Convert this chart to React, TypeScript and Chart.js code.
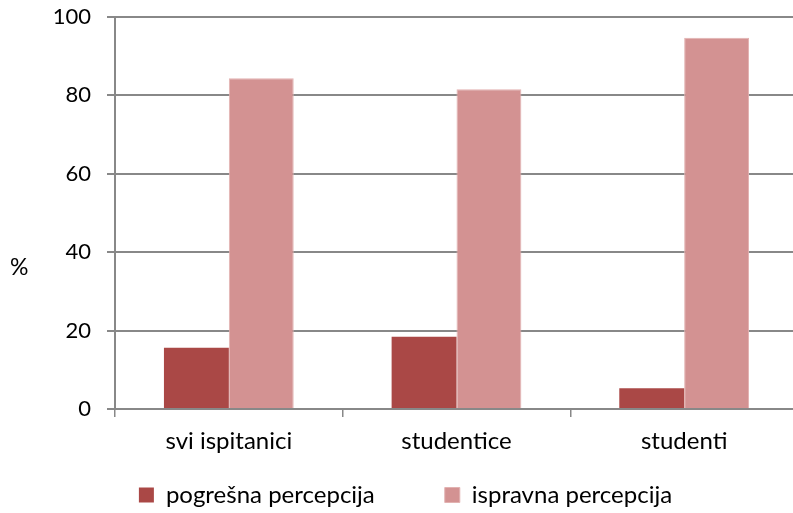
import React, { useEffect, useRef } from "react";
import { Chart, registerables } from "chart.js";

Chart.register(...registerables);

const categories = ["svi ispitanici", "studentice", "studenti"];
const seriesNames = ["pogrešna percepcija", "ispravna percepcija"];
const wrongValues = [15.6, 18.4, 5.3];
const correctValues = [84.4, 81.6, 94.7];
const yTicks = [0, 20, 40, 60, 80, 100];
const yAxisLabel = "%";

const FONT = "Lato, 'Noto Sans', sans-serif";

const percentLabel = {
  id: "percentLabel",
  afterLayout(chart: any) {
    // let the x tick labels draw below the thin x-axis box
    chart.scales.x.bottom = chart.height;
  },
  afterDraw(chart: any) {
    const ctx = chart.ctx;
    const y = chart.scales.y;
    ctx.save();
    ctx.font = `23px ${FONT}`;
    ctx.fillStyle = "#000";
    ctx.textAlign = "left";
    ctx.textBaseline = "middle";
    ctx.fillText(yAxisLabel, 10, y.getPixelForValue(36));
    ctx.restore();
  },
};

export default function App() {
  const ref = useRef<HTMLCanvasElement | null>(null);
  useEffect(() => {
    if (!ref.current) return;
    const chart = new Chart(ref.current, {
      type: "bar",
      data: {
        labels: categories,
        datasets: [
          {
            label: seriesNames[0],
            data: wrongValues,
            backgroundColor: "#AA4846",
            borderColor: "#AA4846",
            borderWidth: 0,
          },
          {
            label: seriesNames[1],
            data: correctValues,
            backgroundColor: "#D39292",
            borderColor: "#E2B2B1",
            borderWidth: 1,
          },
        ],
      },
      options: {
        animation: false,
        responsive: false,
        maintainAspectRatio: false,
        layout: { padding: { left: 13, right: 0, top: 17, bottom: -4 } },
        datasets: { bar: { barPercentage: 1, categoryPercentage: 0.57 } },
        plugins: {
          legend: {
            position: "bottom",
            labels: {
              font: { family: FONT, size: 24 },
              color: "#000",
              boxWidth: 15,
              boxHeight: 15,
              padding: 70,
            },
          },
          tooltip: { enabled: false },
        },
        scales: {
          x: {
            afterFit: (s: any) => {
              s.height = 4;
              s.paddingLeft = 0;
              s.paddingRight = 0;
            },
            grid: {
              offset: true,
              drawOnChartArea: false,
              drawTicks: true,
              tickLength: 8,
              color: "#888",
              lineWidth: 1.5,
            },
            border: { color: "#888", width: 2 },
            ticks: {
              font: { family: FONT, size: 24 },
              color: "#000",
              padding: 10,
              maxRotation: 0,
              autoSkip: false,
            },
          },
          y: {
            min: 0,
            max: 100,
            afterFit: (s: any) => {
              s.width = 102;
              s.paddingTop = 0;
              s.paddingBottom = 0;
            },
            afterBuildTicks: (s: any) => {
              s.ticks = yTicks.map((v) => ({ value: v }));
            },
            grid: {
              color: "#888",
              lineWidth: 2,
              tickLength: 8,
            },
            border: { color: "#888", width: 2 },
            ticks: {
              font: { family: FONT, size: 22 },
              color: "#000",
              padding: 16,
            },
          },
        },
      },
      plugins: [percentLabel],
    });
    return () => chart.destroy();
  }, []);
  return (
    <div
      style={{
        position: "absolute",
        left: 0,
        top: 0,
        width: 793,
        height: 513,
        overflow: "hidden",
        background: "#fff",
      }}
    >
      <canvas ref={ref} width={798} height={513} style={{ width: 798, height: 513, display: "block" }} />
    </div>
  );
}
